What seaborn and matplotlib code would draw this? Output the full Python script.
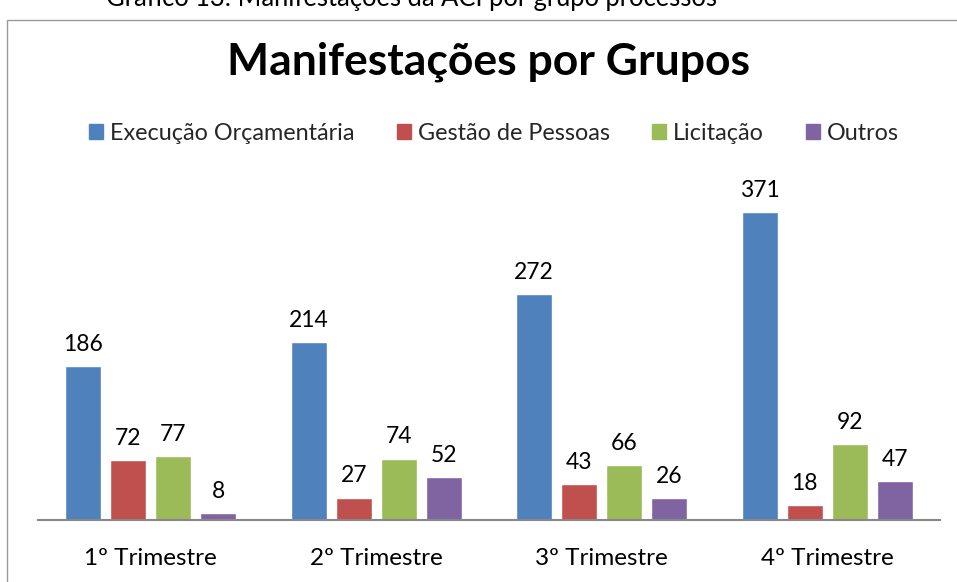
import matplotlib
matplotlib.use("Agg")
import matplotlib.pyplot as plt
import seaborn as sns
import pandas as pd
from matplotlib.patches import Rectangle

categories = ["1º Trimestre", "2º Trimestre", "3º Trimestre", "4º Trimestre"]
series = ["Execução Orçamentária", "Gestão de Pessoas", "Licitação", "Outros"]
exec_orc = [186, 214, 272, 371]
gestao = [72, 27, 43, 18]
licitacao = [77, 74, 66, 92]
outros = [8, 52, 26, 47]
colors = ["#4F81BD", "#C0504D", "#9BBB59", "#8064A2"]

rows = []
for s, vals in zip(series, [exec_orc, gestao, licitacao, outros]):
    for c, v in zip(categories, vals):
        rows.append({"Trimestre": c, "Grupo": s, "Valor": v})
df = pd.DataFrame(rows)

sns.set_style("white")
plt.rcParams['font.family'] = ['Lato', 'DejaVu Sans']

W, H = 957, 582
fig = plt.figure(figsize=(W / 100, H / 100), dpi=100)
ax_left, ax_right = 38, 940
base_y = 520
ymax = 450
scale = 0.830
ax_h = ymax * scale
ax = fig.add_axes([ax_left / W, 1 - base_y / H, (ax_right - ax_left) / W, ax_h / H])

sns.barplot(data=df, x="Trimestre", y="Valor", hue="Grupo", order=categories,
            hue_order=series, palette=colors, width=0.8, gap=0.2, ax=ax,
            saturation=1, legend=False)

for cont in ax.containers:
    ax.bar_label(cont, padding=8, fontsize=16.5, color="#000000", clip_on=False)

ax.set_xlim(-0.5, 3.5)
ax.set_ylim(0, ymax)
ax.set_xlabel("")
ax.set_ylabel("")
ax.set_yticks([])
ax.tick_params(axis="x", length=0, pad=20, labelsize=17.5, colors="#000000")
for side in ["left", "right", "top"]:
    ax.spines[side].set_visible(False)
ax.spines["bottom"].set_color("#888888")
ax.spines["bottom"].set_linewidth(1.5)
ax.patch.set_alpha(0)

# outer chart border
fig.patches.append(Rectangle((7 / W, -0.1), 1.2, 1 - 20 / H + 0.1, transform=fig.transFigure,
                             fill=False, edgecolor="#999999", linewidth=1.0))

# caption at top, partly cut off as in the reference
fig.text(411 / W, 1 - 6 / H, "Gráfico 13: Manifestações da ACI por grupo processos",
         ha="center", va="baseline", fontsize=18.4, color="#000000")

fig.text(488 / W, 1 - 62 / H, "Manifestações por Grupos", ha="center", va="center",
         fontsize=32, fontweight="bold", color="#000000")

# legend
handles = [Rectangle((0, 0), 1, 1, color=c) for c in colors]
fig.legend(handles, series, loc="center", bbox_to_anchor=(494 / W, 1 - 133 / H), ncol=4,
           frameon=False, fontsize=16.8, handlelength=0.6, handleheight=0.6,
           handletextpad=0.3, columnspacing=1.8)

fig.savefig("out.png", dpi=100)
